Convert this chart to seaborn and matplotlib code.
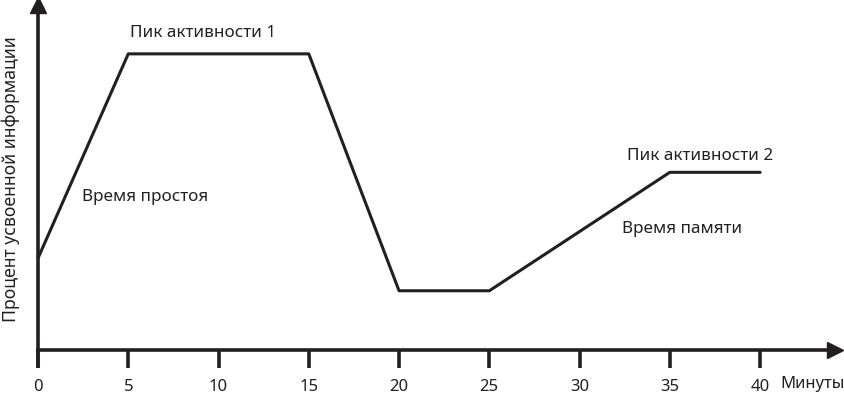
import matplotlib
matplotlib.use("Agg")
import matplotlib.pyplot as plt
import seaborn as sns
import pandas as pd

minutes = [0, 5, 15, 20, 25, 35, 40]
retention = [31, 100, 100, 20, 20, 60, 60]
xticks = [0, 5, 10, 15, 20, 25, 30, 35, 40]
labels_text = ["Пик активности 1", "Время простоя", "Пик активности 2", "Время памяти"]
x_label = "Минуты"
y_label = "Процент усвоенной информации"

sns.set_theme(style="white")
plt.rcParams['font.family'] = ['Noto Sans', 'DejaVu Sans']

df = pd.DataFrame({"m": minutes, "v": retention})

fig = plt.figure(figsize=(8.45, 4.01), dpi=100)
ax = fig.add_axes([38/845, 51/401, (835-38)/845, (350-5)/401])
ymax = 116.5
sns.lineplot(data=df, x="m", y="v", ax=ax, color="#231f20", linewidth=2.2)
ax.set_xlim(0, 44.15)
ax.set_ylim(0, ymax)

for s in ["top", "right"]:
    ax.spines[s].set_visible(False)
for s in ["left", "bottom"]:
    ax.spines[s].set_color("#231f20")
    ax.spines[s].set_linewidth(2.6)
ax.spines["bottom"].set_position(("data", 0))
ax.spines["left"].set_bounds(0, ymax)

# extend the y-axis line below the x-axis
ax.plot([0, 0], [0, -6.0], color="#231f20", lw=2.6, clip_on=False, solid_capstyle="butt")

ax.set_xticks(xticks)
ax.set_xticklabels([str(t) for t in xticks])
ax.set_yticks([])
ax.tick_params(axis="x", direction="out", length=13, width=2.6, color="#231f20",
               labelsize=12, labelcolor="#231f20", pad=8, bottom=True)
ax.set_xlabel("")
ax.set_ylabel("")

# arrows
ax.plot(1, 0, ">", color="#231f20", markersize=11, transform=ax.get_yaxis_transform(), clip_on=False)
ax.plot(0, 1, "^", color="#231f20", markersize=11, transform=ax.get_xaxis_transform(), clip_on=False)

tc = "#231f20"
fs = 12.3
ax.text(9.15, 107, labels_text[0], ha="center", va="center", fontsize=fs, color=tc)
ax.text(2.45, 51.7, labels_text[1], ha="left", va="center", fontsize=fs, color=tc)
ax.text(36.7, 65.5, labels_text[2], ha="center", va="center", fontsize=fs, color=tc)
ax.text(32.35, 40.9, labels_text[3], ha="left", va="center", fontsize=fs, color=tc)

fig.text(780/845, 1 - 384/401, x_label, ha="left", va="center", fontsize=12, color=tc)
fig.text(11/845, 1 - 179/401, y_label, ha="center", va="center", rotation=90, fontsize=12.7, color=tc)

fig.savefig("out.png", dpi=100)
